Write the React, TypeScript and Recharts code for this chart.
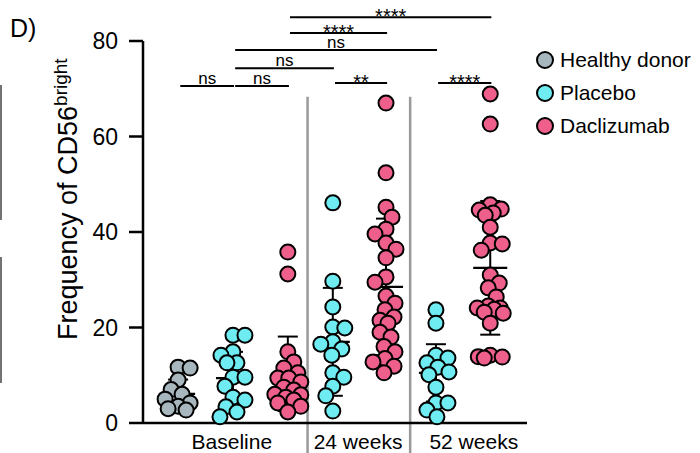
import React from "react";
import { ScatterChart, Scatter, XAxis, YAxis, ReferenceLine, ErrorBar } from "recharts";

const FONT = '"Liberation Sans", Arial, Helvetica, sans-serif';

// categories
const cohorts = ["Healthy donor", "Placebo", "Daclizumab"];
const cohortColors = ["#A8B7BE", "#6FECF1", "#EE5F8B"];
const timepoints = ["Baseline", "24 weeks", "52 weeks"];
const yTicks = [0, 20, 40, 60, 80];

// frequency of CD56bright
const healthyBaseline = [11.7, 11.5, 9.0, 7.0, 6.0, 5.0, 4.2, 3.5, 3.0, 2.7];
const placeboBaseline = [18.4, 18.4, 14.9, 14.2, 12.6, 12.6, 9.6, 9.6, 7.7, 5.4, 4.8, 3.4, 2.3, 1.3];
const daclizumabBaseline = [35.8, 31.2, 14.9, 12.8, 11.5, 10.5, 9.4, 9.4, 8.6, 7.5, 6.9, 6.0, 5.9, 5.4, 4.8, 4.2, 3.5, 2.3];
const placebo24 = [46.1, 29.7, 24.3, 20.1, 19.9, 17.0, 16.5, 15.5, 14.2, 10.5, 9.6, 7.7, 5.7, 2.5];
const daclizumab24 = [67.0, 52.4, 45.2, 43.1, 40.6, 39.6, 37.7, 36.4, 34.6, 30.6, 29.5, 26.6, 25.1, 23.7, 22.2, 21.5, 20.9, 19.0, 18.0, 16.0, 14.9, 13.5, 12.8, 11.9, 10.5];
const placebo52 = [23.7, 20.9, 14.2, 13.6, 12.6, 11.7, 10.7, 10.1, 7.5, 4.2, 4.2, 2.7, 1.3];
const daclizumab52 = [68.9, 62.6, 45.7, 44.8, 44.6, 44.0, 43.5, 41.0, 37.7, 37.5, 36.2, 31.0, 29.3, 28.3, 26.4, 24.5, 24.1, 24.1, 23.8, 23.2, 23.0, 20.9, 14.2, 13.9, 13.8, 13.6];

const groupValues = [healthyBaseline, placeboBaseline, daclizumabBaseline, placebo24, daclizumab24, placebo52, daclizumab52];
const groupCohort = [0, 1, 2, 1, 2, 1, 2];
const groupMean = [6.1, 9.4, 10.3, 17.0, 28.5, 10.5, 32.5];
const groupSd = [3.0, 5.5, 7.8, 11.3, 14.3, 6.0, 14.0];

// significance tests between groups
const comparisonPairs = [[0, 1], [1, 2], [1, 3], [1, 5], [2, 4], [2, 6], [3, 4], [5, 6]];
const comparisonLabels = ["ns", "ns", "ns", "ns", "****", "****", "**", "****"];

// layout
const W = 700;
const H = 453;
const MARGIN = { top: 41, right: 173, bottom: 0, left: 83 };
const Y_AXIS_W = 60;
const X_AXIS_H = 30;
const PLOT_H = H - MARGIN.top - MARGIN.bottom - X_AXIS_H;
const X_MAX = 7;
const Y_MAX = 80;
const groupX = [0.64, 1.64, 2.64, 3.46, 4.43, 5.34, 6.33];
const timepointX = [1.62, 3.92, 6.03];
const dividerX = [3.0, 4.87];
const bracketY = [70.6, 70.6, 74.3, 78.1, 81.7, 85.0, 71.2, 71.2];

const pxPerY = PLOT_H / Y_MAX;

// simple beeswarm so the dots sit side by side like the original
function swarm(values: number[]): number[] {
  const minDist = 11.5;
  const maxDx = 13;
  const order = values.map((_, i) => i).sort((a, b) => values[b] - values[a]);
  const dx = new Array(values.length).fill(0);
  const placed: number[] = [];
  let side = 1;
  for (const i of order) {
    const py = values[i] * pxPerY;
    let best = 0;
    let bestScore = -Infinity;
    for (let step = 0; step <= maxDx && bestScore !== Infinity; step++) {
      const signs = step === 0 ? [0] : [side, -side];
      for (const s of signs) {
        const cand = step * s;
        let d = Infinity;
        for (const j of placed) {
          d = Math.min(d, Math.hypot(cand - dx[j], py - values[j] * pxPerY));
        }
        if (d >= minDist) {
          best = cand;
          bestScore = Infinity;
          break;
        }
        if (d > bestScore) {
          bestScore = d;
          best = cand;
        }
      }
    }
    dx[i] = best;
    if (best !== 0) side = best > 0 ? -1 : 1;
    placed.push(i);
  }
  return dx;
}

const pointsByCohort = cohorts.map((_, c) =>
  groupValues.flatMap((vals, g) => {
    if (groupCohort[g] !== c) return [];
    const offs = swarm(vals);
    return vals.map((v, i) => ({ x: groupX[g], y: v, dx: offs[i] }));
  })
);

const summary = groupMean.map((m, g) => ({ x: groupX[g], y: m, sd: groupSd[g] }));

const makeDot = (color: string) => (props: any) => (
  <circle
    cx={props.cx + (props.payload?.dx ?? 0)}
    cy={props.cy}
    r={7.5}
    fill={color}
    stroke="#000"
    strokeWidth={2}
  />
);

const MeanLine = (props: any) => (
  <line x1={props.cx - 17} x2={props.cx + 17} y1={props.cy} y2={props.cy} stroke="#000" strokeWidth={2.2} />
);

const BracketLabel = ({ viewBox, text }: any) => {
  const stars = text !== "ns";
  return (
    <text
      x={viewBox.x + viewBox.width / 2}
      y={viewBox.y + (stars ? 6 : -2)}
      textAnchor="middle"
      fontSize={stars ? 20 : 17}
      fontFamily={FONT}
      fill="#000"
    >
      {text}
    </text>
  );
};

export default function App() {
  return (
    <div style={{ position: "absolute", left: 0, top: 0, width: W, height: H, background: "#fff" }}>
      <ScatterChart width={W} height={H} margin={MARGIN}>
        <XAxis
          type="number"
          dataKey="x"
          domain={[0, X_MAX]}
          ticks={timepointX}
          tickFormatter={(v: number) => timepoints[timepointX.indexOf(v)] ?? ""}
          height={X_AXIS_H}
          tickLine={false}
          tickSize={0}
          tickMargin={11}
          axisLine={{ stroke: "#000", strokeWidth: 2.5 }}
          tick={{ fill: "#000", fontSize: 21, fontFamily: FONT }}
          interval={0}
        />
        <YAxis
          type="number"
          dataKey="y"
          domain={[0, Y_MAX]}
          ticks={yTicks}
          width={Y_AXIS_W}
          tickSize={14}
          tickMargin={11}
          axisLine={{ stroke: "#000", strokeWidth: 2.5 }}
          tickLine={{ stroke: "#000", strokeWidth: 2.5 }}
          tick={{ fill: "#000", fontSize: 23, fontFamily: FONT }}
        />
        {dividerX.map((x) => (
          <ReferenceLine
            key={x}
            segment={[{ x, y: 68.3 }, { x, y: -6.4 }]}
            stroke="#9A9A9A"
            strokeWidth={2.5}
            ifOverflow="visible"
          />
        ))}
        <Scatter data={summary} shape={MeanLine} isAnimationActive={false}>
          <ErrorBar dataKey="sd" direction="y" width={10} stroke="#000" strokeWidth={2} />
        </Scatter>
        {cohorts.map((name, c) => (
          <Scatter
            key={name}
            name={name}
            data={pointsByCohort[c]}
            fill={cohortColors[c]}
            shape={makeDot(cohortColors[c])}
            isAnimationActive={false}
          />
        ))}
        {comparisonPairs.map(([a, b], k) => (
          <ReferenceLine
            key={k}
            segment={[
              { x: groupX[a] + 0.04, y: bracketY[k] },
              { x: groupX[b] + 0.02, y: bracketY[k] },
            ]}
            stroke="#000"
            strokeWidth={2}
            ifOverflow="visible"
            label={(p: any) => <BracketLabel {...p} text={comparisonLabels[k]} />}
          />
        ))}
      </ScatterChart>
      <svg
        width={W}
        height={H}
        style={{ position: "absolute", left: 0, top: 0, pointerEvents: "none" }}
        fontFamily={FONT}
      >
        <text x={10} y={37} fontSize={25} fill="#000">D)</text>
        <line x1={1} x2={1} y1={85} y2={220} stroke="#444" strokeWidth={1.5} />
        <line x1={1} x2={1} y1={257} y2={383} stroke="#444" strokeWidth={1.5} />
        <text transform="translate(77, 340) rotate(-90)" fontSize={27} fill="#000">
          Frequency of CD56
          <tspan dy={-10} fontSize={19}>bright</tspan>
        </text>
        {cohorts.map((name, c) => (
          <g key={name}>
            <circle cx={545} cy={60 + c * 33} r={8} fill={cohortColors[c]} stroke="#000" strokeWidth={2} />
            <text x={560} y={60 + c * 33 + 7} fontSize={21} fill="#000">{name}</text>
          </g>
        ))}
      </svg>
    </div>
  );
}
